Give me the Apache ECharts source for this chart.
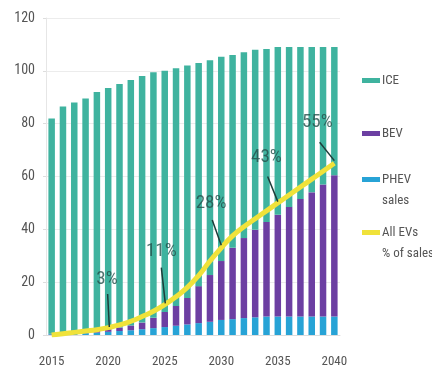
<!DOCTYPE html>
<html>
<head>
<meta charset="utf-8">
<script src="https://cdn.jsdelivr.net/npm/echarts@6/dist/echarts.min.js"></script>
<style>
html,body{margin:0;padding:0;background:#fff;}
#chart{width:432px;height:372px;}
</style>
</head>
<body>
<div id="chart"></div>
<script>
var years = ['2015','2016','2017','2018','2019','2020','2021','2022','2023','2024','2025','2026','2027','2028','2029','2030','2031','2032','2033','2034','2035','2036','2037','2038','2039','2040'];
var phev = [0.3,0.4,0.5,0.7,0.9,1.2,1.5,1.8,2.2,2.6,3,3.5,4,4.5,5,5.7,6,6.4,6.7,7,7,7,7,7,7,7];
var bev = [0.2,0.3,0.5,0.6,0.8,1.0,1.3,1.8,2.5,3.9,5.7,7.5,10,14,17.7,22.3,27,30.3,33.1,35.8,38.5,41.5,44.5,47,50,53.5];
var ice = [81.5,85.8,87,88.2,90.3,91.3,92.2,92.9,93.3,93,91.3,90,88,84.5,81.3,77.3,73,70.3,68.2,65.5,63.5,60.5,57.5,55,52,48.5];
var evShare = [0,0.5,1,1.5,2,2.8,3.8,5.2,7,9,11.5,14.5,18,22.5,28,33,37.5,41,44,47,50,53,56,59,62,65];
var yTicks = [0,20,40,60,80,100,120];
// annotations in data units (year, axis value)
var annText = ['3%','11%','28%','43%','55%'];
var annLabelYear = [2019.9,2024.7,2029.1,2034.0,2038.5];
var annLabelVal = [21.2,31.6,50,67.4,80.7];
var annFromYear = [2019.95,2024.7,2029.2,2034.1,2038.7];
var annFromVal = [15.5,25.5,43.5,60,73];
var annToYear = [2020.1,2025.05,2030,2035,2040];
var annToVal = [3,12,34,50.5,66];

var FONT = "'Roboto Condensed','Liberation Sans Narrow','DejaVu Sans Condensed',sans-serif";
var C_ICE = '#3fb39f', C_BEV = '#6c3fa2', C_PHEV = '#27a3d6', C_EV = '#f0e23a';

var chart = echarts.init(document.getElementById('chart'), null, {renderer:'canvas'});

var labelData = annText.map(function(t,i){ return {name:t, value:[annLabelYear[i], annLabelVal[i]]}; });
var pointerData = annText.map(function(t,i){ return {coords:[[annFromYear[i],annFromVal[i]],[annToYear[i],annToVal[i]]]}; });

function legendItem(name, top){
  return {
    data:[name], orient:'vertical', left:362, top:top, padding:0,
    icon:'rect', itemWidth:18, itemHeight:5, itemGap:0,
    selectedMode:false,
    formatter: function(n){
      if(n==='PHEV') return ' \nPHEV\nsales';
      if(n==='All EVs') return ' \nAll EVs\n% of sales';
      return n;
    },
    textStyle:{fontFamily:FONT, fontSize:13, color:'#555', lineHeight:21, padding:[0,0,0,-3]}
  };
}

var option = {
  animation:false,
  backgroundColor:'#fff',
  grid:{left:46, top:18, width:294, height:317, containLabel:false},
  legend:[legendItem('ICE',70), legendItem('BEV',123), legendItem('PHEV',148), legendItem('All EVs',201)],
  xAxis:[{
    type:'category', data:years, boundaryGap:true,
    axisLine:{show:true, lineStyle:{color:'#ddd'}},
    axisTick:{show:false},
    axisLabel:{interval:4, margin:20, fontFamily:FONT, fontSize:13, color:'#555'},
    splitLine:{show:false}
  },{
    type:'value', min:2014.5, max:2040.5, show:false
  }],
  yAxis:[{
    type:'value', min:yTicks[0], max:yTicks[yTicks.length-1], interval:20,
    axisLine:{show:true, lineStyle:{color:'#e6e6e6'}},
    axisTick:{show:true, length:3, lineStyle:{color:'#ddd'}},
    axisLabel:{margin:11, fontFamily:FONT, fontSize:14, color:'#555'},
    splitLine:{show:true, lineStyle:{color:'#ececec', width:1}}
  }],
  series:[
    {name:'PHEV', type:'bar', stack:'s', data:phev, barWidth:6.5, itemStyle:{color:C_PHEV}},
    {name:'BEV', type:'bar', stack:'s', data:bev, barWidth:6.5, itemStyle:{color:C_BEV}},
    {name:'ICE', type:'bar', stack:'s', data:ice, barWidth:6.5, itemStyle:{color:C_ICE}},
    {name:'All EVs', type:'line', data:evShare, smooth:true, symbol:'none', z:5,
      lineStyle:{color:C_EV, width:5}, itemStyle:{color:C_EV}},
    {name:'pointers', type:'lines', coordinateSystem:'cartesian2d', xAxisIndex:1, yAxisIndex:0,
      data:pointerData, z:6, silent:true,
      lineStyle:{color:'#1e3d3a', width:1.5, opacity:1}},
    {name:'labels', type:'scatter', xAxisIndex:1, yAxisIndex:0, data:labelData, symbolSize:0, z:7, silent:true,
      label:{show:true, position:'inside', formatter:'{b}', fontFamily:FONT, fontSize:19, color:'#24504b'}}
  ]
};
chart.setOption(option);
</script>
</body>
</html>
